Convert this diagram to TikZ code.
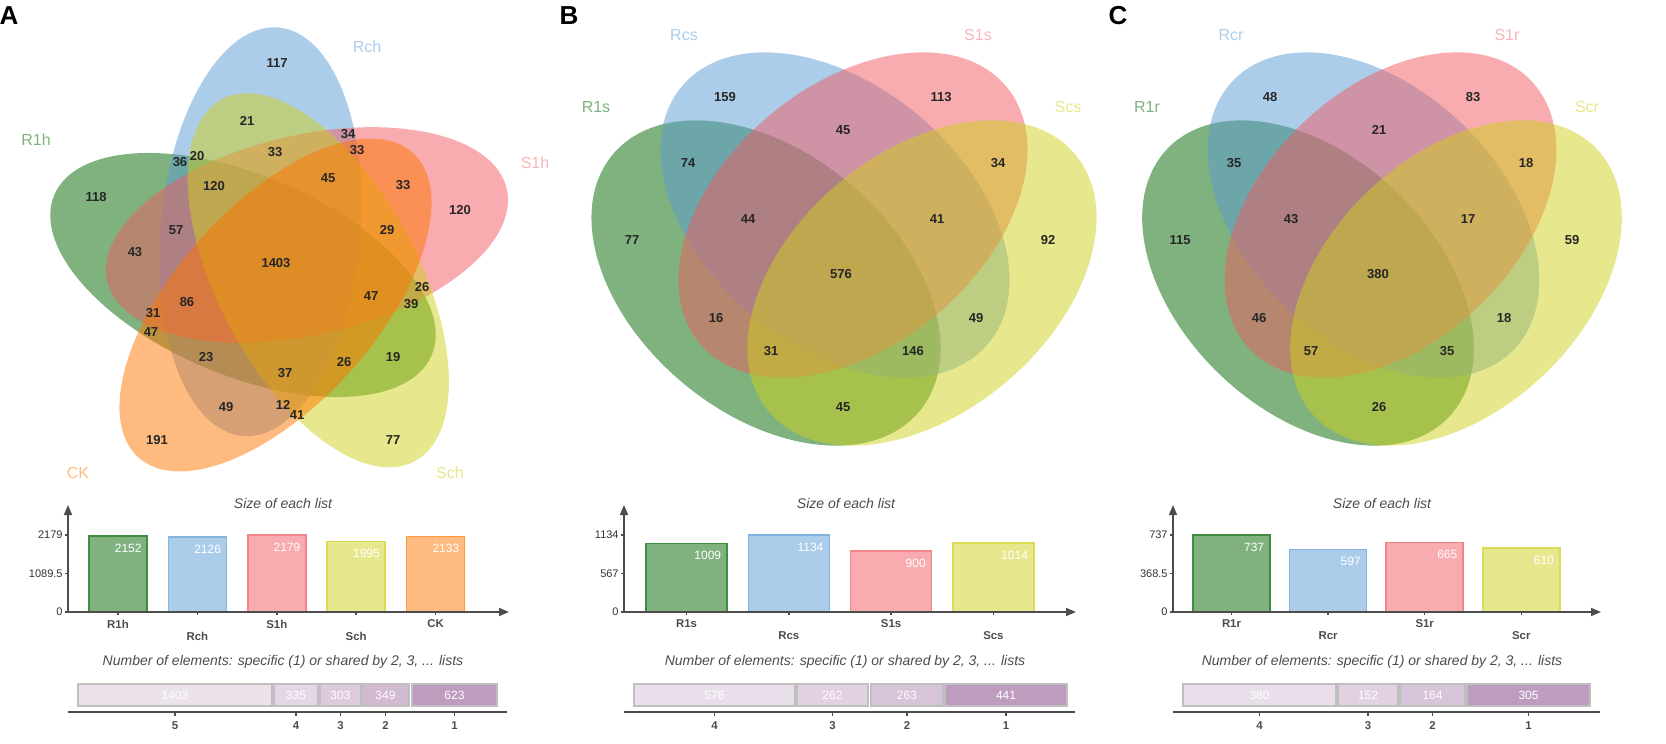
\documentclass[tikz,border=0pt]{standalone}
\usepackage{fontspec}
\setmainfont{Liberation Sans}
\usetikzlibrary{arrows.meta}
\definecolor{vgreen}{HTML}{006600}
\definecolor{vblue}{HTML}{5A9BD4}
\definecolor{vpink}{HTML}{F15A60}
\definecolor{vyellow}{HTML}{CFCF1B}
\definecolor{vorange}{HTML}{FF7500}
\definecolor{stk}{RGB}{128,64,130}
\begin{document}
\begin{tikzpicture}[x=0.5pt,y=-0.5pt,
  vnum/.style={font=\bfseries\fontsize{6.5}{7}\selectfont, text=black!85, inner sep=0},
  setlbl/.style={font=\fontsize{8}{9}\selectfont, inner sep=0},
  panel/.style={font=\bfseries\fontsize{13}{14}\selectfont, inner sep=0},
  ttl/.style={font=\itshape\fontsize{7}{8}\selectfont, text=black!70, inner sep=0},
  ticklbl/.style={font=\fontsize{5.5}{6}\selectfont, text=black!80, anchor=east, inner sep=0},
  lvllbl/.style={font=\bfseries\fontsize{5.7}{6}\selectfont, text=black!70, inner sep=0},
  barlbl/.style={font=\bfseries\fontsize{5.7}{6}\selectfont, text=black!70, inner sep=0},
  vallbl/.style={font=\fontsize{6}{7}\selectfont, text=white, anchor=east, inner sep=0},
  axisline/.style={draw=black!70, line width=0.75pt},
  arr/.style={axisline, -{Triangle[length=5pt,width=4pt]}},
  seg/.style={draw=black!25, line width=0.7pt},
  seglbl/.style={font=\fontsize{6}{7}\selectfont, text=white, inner sep=0},
  vfill/.style={fill=#1, fill opacity=0.5}]
\useasboundingbox (0,0) rectangle (1666,744);

% ---------------- Panel A : 5-set Venn ----------------
\node[panel] (pA) at (9,16) {A};
\fill[vfill=vgreen,  shift={(243,275)},     rotate=157] (0,0) ellipse [x radius=205, y radius=100];
\fill[vfill=vblue,   shift={(260.5,231.7)}, rotate=85]  (0,0) ellipse [x radius=205, y radius=100];
\fill[vfill=vpink,   shift={(307,235)},     rotate=13]  (0,0) ellipse [x radius=205, y radius=100];
\fill[vfill=vyellow, shift={(318.3,280.3)}, rotate=-62] (0,0) ellipse [x radius=205, y radius=100];
\fill[vfill=vorange, shift={(275.5,305)},   rotate=-132] (0,0) ellipse [x radius=205, y radius=100];

\node[setlbl, text=vgreen!50!white]  (sA1) at (36,140) {R1h};
\node[setlbl, text=vblue!50!white]   (sA2) at (367,47) {Rch};
\node[setlbl, text=vpink!45!white]   (sA3) at (535,163) {S1h};
\node[setlbl, text=vyellow!50!white] (sA4) at (450,473) {Sch};
\node[setlbl, text=vorange!50!white] (sA5) at (78,473) {CK};

\foreach \x/\y/\t [count=\k] in {277/63/117, 247/121/21, 348/134/34, 357/150/33, 180/162/36,
  197/156/20, 275/152/33, 328/178/45, 403/185/33, 460/210/120, 96/197/118, 214/186/120,
  176/230/57, 135/252/43, 387/230/29, 276/263/1403, 422/287/26, 411/304/39, 371/296/47,
  187/302/86, 153/313/31, 151/332/47, 206/357/23, 285/373/37, 344/362/26, 393/357/19,
  226/407/49, 283/405/12, 297/415/41, 157/440/191, 393/440/77}
  {\node[vnum] (nA\k) at (\x,\y) {\t};}

% ---------------- Panel B : 4-set Venn ----------------
\node[panel] (pB) at (569,16) {B};
\fill[vfill=vgreen,  shift={(766,283)}, rotate=-40] (0,0) ellipse [x radius=200, y radius=130];
\fill[vfill=vblue,   shift={(835,215)}, rotate=-40] (0,0) ellipse [x radius=200, y radius=130];
\fill[vfill=vpink,   shift={(853,215)}, rotate=40]  (0,0) ellipse [x radius=200, y radius=130];
\fill[vfill=vyellow, shift={(922,283)}, rotate=40]  (0,0) ellipse [x radius=200, y radius=130];

\node[setlbl, text=vblue!50!white]   (sB2) at (684,35) {Rcs};
\node[setlbl, text=vpink!45!white]   (sB3) at (978,35) {S1s};
\node[setlbl, text=vgreen!50!white]  (sB1) at (596,107) {R1s};
\node[setlbl, text=vyellow!50!white] (sB4) at (1068,107) {Scs};

\foreach \x/\y/\t [count=\k] in {725/97/159, 941/97/113, 843/130/45, 688/163/74, 998/163/34,
  748/219/44, 937/219/41, 632/240/77, 1048/240/92, 841/274/576, 716/318/16, 976/318/49,
  771/351/31, 913/351/146, 843/407/45}
  {\node[vnum] (nB\k) at (\x,\y) {\t};}

% ---------------- Panel C : 4-set Venn ----------------
\node[panel] (pC) at (1118,16) {C};
\fill[vfill=vgreen,  shift={(1308,283)},   xscale=0.95, rotate=-40] (0,0) ellipse [x radius=200, y radius=130];
\fill[vfill=vblue,   shift={(1373.5,215)}, xscale=0.95, rotate=-40] (0,0) ellipse [x radius=200, y radius=130];
\fill[vfill=vpink,   shift={(1390.5,215)}, xscale=0.95, rotate=40]  (0,0) ellipse [x radius=200, y radius=130];
\fill[vfill=vyellow, shift={(1456,283)},   xscale=0.95, rotate=40]  (0,0) ellipse [x radius=200, y radius=130];

\node[setlbl, text=vblue!50!white]   (sC2) at (1231,35) {Rcr};
\node[setlbl, text=vpink!45!white]   (sC3) at (1507,35) {S1r};
\node[setlbl, text=vgreen!50!white]  (sC1) at (1147,107) {R1r};
\node[setlbl, text=vyellow!50!white] (sC4) at (1587,107) {Scr};

\foreach \x/\y/\t [count=\k] in {1270/97/48, 1473/97/83, 1379/130/21, 1234/163/35, 1526/163/18,
  1291/219/43, 1468/219/17, 1180/240/115, 1572/240/59, 1378/274/380, 1259/318/46, 1504/318/18,
  1311/351/57, 1447/351/35, 1379/407/26}
  {\node[vnum] (nC\k) at (\x,\y) {\t};}

% ---------------- Bar charts: size of each list ----------------
% Panel A
\node[ttl] (tA1) at (283,503) {Size of each list};
\foreach \i/\v/\c/\n in {0/2152/vgreen/R1h, 1/2126/vblue/Rch, 2/2179/vpink/S1h, 3/1995/vyellow/Sch, 4/2133/vorange/CK} {
  \pgfmathsetmacro\cx{118+79.4*\i}
  \pgfmathsetmacro\ty{612-77*(\v/2179)}
  \pgfmathsetmacro\ly{mod(\i,2)==0 ? 624 : 636}
  \draw[draw=\c!75!white, fill=\c!50!white, line width=0.8pt] (\cx-29,612) rectangle (\cx+29,\ty);
  \node[vallbl] (vA\i) at (\cx+24,\ty+12) {\v};
  \draw[axisline] (\cx,612) -- (\cx,615);
  \node[barlbl] (xA\i) at (\cx,\ly) {\n};
}
\coordinate (oA) at (68,612); \coordinate (yA) at (68,505); \coordinate (xA) at (509,612);
\draw[arr] (oA) -- (yA); \draw[arr] (oA) -- (xA);
\foreach \y/\t [count=\k] in {535/2179, 573.5/1089.5, 612/0} {
  \draw[axisline] (65,\y) -- (68,\y); \node[ticklbl] (kA\k) at (63,\y) {\t};}

% Panel B
\node[ttl] (tB1) at (846,503) {Size of each list};
\foreach \i/\v/\c/\n in {0/1009/vgreen/R1s, 1/1134/vblue/Rcs, 2/900/vpink/S1s, 3/1014/vyellow/Scs} {
  \pgfmathsetmacro\cx{686.5+102.3*\i}
  \pgfmathsetmacro\ty{612-77*(\v/1134)}
  \pgfmathsetmacro\ly{mod(\i,2)==0 ? 624 : 636}
  \draw[draw=\c!75!white, fill=\c!50!white, line width=0.8pt] (\cx-40.5,612) rectangle (\cx+40.5,\ty);
  \node[vallbl] (vB\i) at (\cx+35,\ty+12) {\v};
  \draw[axisline] (\cx,612) -- (\cx,615);
  \node[barlbl] (xB\i) at (\cx,\ly) {\n};
}
\coordinate (oB) at (624,612); \coordinate (yB) at (624,505); \coordinate (xB) at (1076,612);
\draw[arr] (oB) -- (yB); \draw[arr] (oB) -- (xB);
\foreach \y/\t [count=\k] in {535/1134, 573.5/567, 612/0} {
  \draw[axisline] (621,\y) -- (624,\y); \node[ticklbl] (kB\k) at (619,\y) {\t};}

% Panel C
\node[ttl] (tC1) at (1382,503) {Size of each list};
\foreach \i/\v/\c/\n in {0/737/vgreen/R1r, 1/597/vblue/Rcr, 2/665/vpink/S1r, 3/610/vyellow/Scr} {
  \pgfmathsetmacro\cx{1231.5+96.6*\i}
  \pgfmathsetmacro\ty{612-77*(\v/737)}
  \pgfmathsetmacro\ly{mod(\i,2)==0 ? 624 : 636}
  \draw[draw=\c!75!white, fill=\c!50!white, line width=0.8pt] (\cx-38.5,612) rectangle (\cx+38.5,\ty);
  \node[vallbl] (vC\i) at (\cx+33,\ty+12) {\v};
  \draw[axisline] (\cx,612) -- (\cx,615);
  \node[barlbl] (xC\i) at (\cx,\ly) {\n};
}
\coordinate (oC) at (1173,612); \coordinate (yC) at (1173,505); \coordinate (xC) at (1601,612);
\draw[arr] (oC) -- (yC); \draw[arr] (oC) -- (xC);
\foreach \y/\t [count=\k] in {535/737, 573.5/368.5, 612/0} {
  \draw[axisline] (1170,\y) -- (1173,\y); \node[ticklbl] (kC\k) at (1168,\y) {\t};}

% ---------------- Stacked bars: number of elements ----------------
\node[ttl] (tA2) at (283,662) {Number of elements: specific (1) or shared by 2, 3, ... lists};
\node[ttl] (tB2) at (845,662) {Number of elements: specific (1) or shared by 2, 3, ... lists};
\node[ttl] (tC2) at (1382,662) {Number of elements: specific (1) or shared by 2, 3, ... lists};

\foreach \x/\w/\v/\s/\l [count=\k] in {175/194/1403/15/5, 296/44/335/21/4, 340.5/41/303/27/3, 385.5/47/349/36/2, 454.5/85/623/52/1} {
  \draw[seg, fill=stk!\s!white] (\x-\w/2,684) rectangle (\x+\w/2,706);
  \node[seglbl] (gA\k) at (\x,695) {\v};
  \draw[axisline] (\x,712) -- (\x,716);
  \node[lvllbl] (lA\k) at (\x,726) {\l};
}
\coordinate (bA1) at (68,712); \coordinate (bA2) at (507,712);
\draw[axisline, line width=1pt] (bA1) -- (bA2);

\foreach \x/\w/\v/\s/\l [count=\k] in {714.5/161/576/17/4, 832.5/71/262/24/3, 907/72/263/31/2, 1006/122/441/52/1} {
  \draw[seg, fill=stk!\s!white] (\x-\w/2,684) rectangle (\x+\w/2,706);
  \node[seglbl] (gB\k) at (\x,695) {\v};
  \draw[axisline] (\x,712) -- (\x,716);
  \node[lvllbl] (lB\k) at (\x,726) {\l};
}
\coordinate (bB1) at (624,712); \coordinate (bB2) at (1075,712);
\draw[axisline, line width=1pt] (bB1) -- (bB2);

\foreach \x/\w/\v/\s/\l [count=\k] in {1259.5/153/380/17/4, 1368/60/152/24/3, 1432.5/65/164/31/2, 1528.5/123/305/52/1} {
  \draw[seg, fill=stk!\s!white] (\x-\w/2,684) rectangle (\x+\w/2,706);
  \node[seglbl] (gC\k) at (\x,695) {\v};
  \draw[axisline] (\x,712) -- (\x,716);
  \node[lvllbl] (lC\k) at (\x,726) {\l};
}
\coordinate (bC1) at (1173,712); \coordinate (bC2) at (1600,712);
\draw[axisline, line width=1pt] (bC1) -- (bC2);
\end{tikzpicture}
\end{document}
